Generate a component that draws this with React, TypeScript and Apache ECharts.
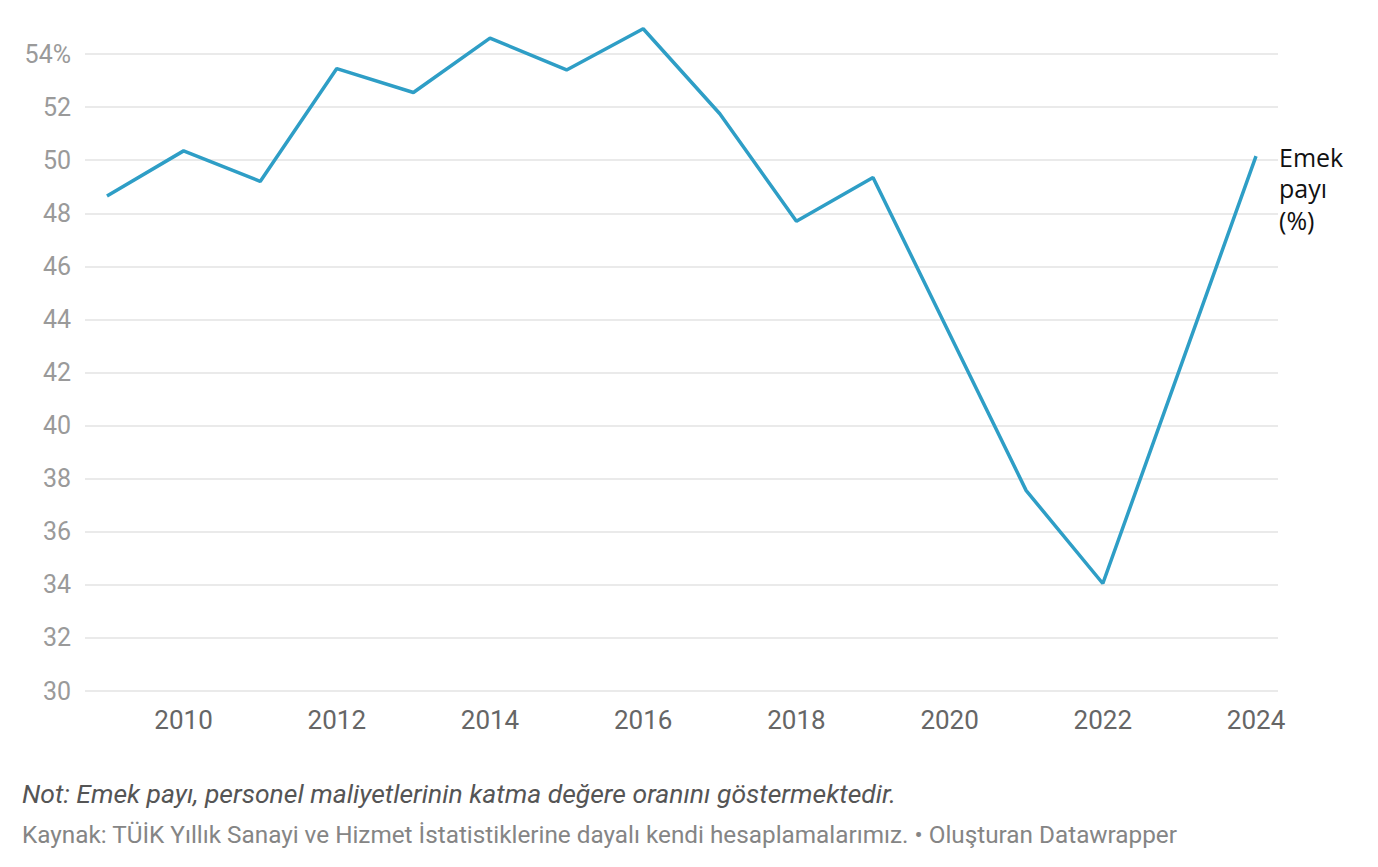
import React, { useEffect, useRef } from "react";
import * as echarts from "echarts";

const years = [2009, 2010, 2011, 2012, 2013, 2014, 2015, 2016, 2017, 2018, 2019, 2020, 2021, 2022, 2023, 2024];
const laborShare = [48.65, 50.35, 49.2, 53.45, 52.55, 54.6, 53.4, 54.95, 51.75, 47.7, 49.35, 43.45, 37.55, 34.05, 42.1, 50.15];
const xTickLabels = [2010, 2012, 2014, 2016, 2018, 2020, 2022, 2024];
const seriesLabel = "Emek\npayı\n(%)";
const noteText = "Not: Emek payı, personel maliyetlerinin katma değere oranını göstermektedir.";
const sourceText = "Kaynak: TÜİK Yıllık Sanayi ve Hizmet İstatistiklerine dayalı kendi hesaplamalarımız. • Oluşturan Datawrapper";

export default function App() {
  const ref = useRef<HTMLDivElement>(null);
  useEffect(() => {
    if (!ref.current) return;
    const chart = echarts.init(ref.current, null, { renderer: "svg" });
    chart.setOption({
      animation: false,
      backgroundColor: "#ffffff",
      textStyle: { fontFamily: "Roboto" },
      grid: { left: 85, right: 100, top: 54, bottom: 176, containLabel: false },
      xAxis: {
        type: "value",
        min: 2008.713,
        max: 2024.287,
        axisLine: { show: false },
        axisTick: { show: false },
        splitLine: { show: false },
        axisLabel: {
          customValues: xTickLabels,
          formatter: (v: number) => String(v),
          color: "#666666",
          fontSize: 26,
          margin: 16,
          fontFamily: "Roboto",
        },
      },
      yAxis: {
        type: "value",
        min: 30,
        max: 54,
        interval: 2,
        axisLine: { show: false },
        axisTick: { show: false },
        splitLine: { lineStyle: { color: "#e3e3e3", width: 1.5 } },
        axisLabel: {
          formatter: (v: number) => (v === 54 ? "54%" : String(v)),
          color: "#9a9a9a",
          fontSize: 25,
          margin: 14,
          fontFamily: "Roboto",
        },
      },
      series: [
        {
          type: "line",
          data: years.map((y, i) => [y, laborShare[i]]),
          showSymbol: false,
          symbol: "none",
          clip: false,
          lineStyle: { color: "#2e9ec6", width: 3.5 },
          itemStyle: { color: "#2e9ec6" },
          endLabel: {
            show: true,
            formatter: seriesLabel,
            color: "#111111",
            fontSize: 25,
            lineHeight: 31.5,
            fontFamily: "Open Sans",
            distance: 23,
            offset: [0, 32],
          },
        },
      ],
      graphic: [
        {
          type: "text",
          left: 22,
          top: 780,
          style: {
            text: noteText,
            fill: "#555555",
            font: "italic 26.5px Roboto",
          },
        },
        {
          type: "text",
          left: 22,
          top: 822,
          style: {
            text: sourceText,
            fill: "#858585",
            font: "24.3px Roboto",
          },
        },
      ],
    });
    return () => chart.dispose();
  }, []);
  return <div ref={ref} style={{ position: "fixed", left: 0, top: 0, width: 1378, height: 867 }} />;
}
